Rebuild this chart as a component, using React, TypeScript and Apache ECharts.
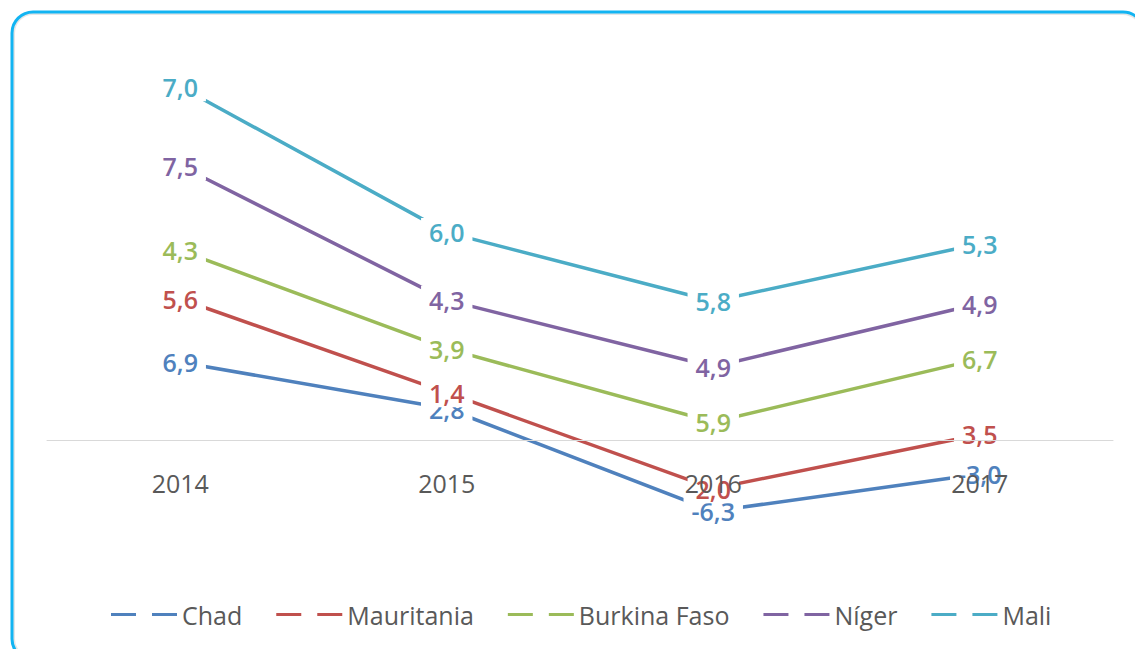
import React, { useEffect, useRef } from "react";
import * as echarts from "echarts";

const years = ["2014", "2015", "2016", "2017"];
const seriesNames = ["Chad", "Mauritania", "Burkina Faso", "Níger", "Mali"];
const chad = [6.9, 2.8, -6.3, -3.0];
const mauritania = [5.6, 1.4, 2.0, 3.5];
const burkina = [4.3, 3.9, 5.9, 6.7];
const niger = [7.5, 4.3, 4.9, 4.9];
const mali = [7.0, 6.0, 5.8, 5.3];
const colors = ["#4f81bd", "#c0504d", "#9bbb59", "#8064a2", "#4bacc6"];

const FONT = "'Open Sans', 'Liberation Sans', sans-serif";

export default function App() {
  const ref = useRef<HTMLDivElement>(null);
  useEffect(() => {
    if (!ref.current) return;
    const chart = echarts.init(ref.current, null, { renderer: "svg" });
    const values = [chad, mauritania, burkina, niger, mali];
    chart.setOption({
      animation: false,
      backgroundColor: "#ffffff",
      graphic: [
        {
          type: "rect",
          shape: { x: 14, y: 14, width: 1128, height: 644, r: 19 },
          style: { fill: "none", stroke: "#e6e6e6", lineWidth: 2 },
          silent: true,
        },
        {
          type: "rect",
          shape: { x: 12, y: 12, width: 1132, height: 648, r: 21 },
          style: { fill: "none", stroke: "#12b4f2", lineWidth: 3 },
          silent: true,
        },
      ],
      grid: { left: 47, right: 22, top: 45, bottom: 96 },
      legend: {
        left: 106,
        top: 597,
        itemWidth: 66,
        itemHeight: 3,
        itemGap: 34,
        textStyle: { color: "#595959", fontSize: 25, fontFamily: FONT },
        data: seriesNames.map((n) => ({
          name: n,
          icon: "path://M0,0h25v3h-25z M41,0h25v3h-25z",
        })),
      },
      xAxis: {
        type: "category",
        data: years,
        boundaryGap: true,
        z: 10,
        axisLine: { onZero: true, lineStyle: { color: "#d9d9d9", width: 1 } },
        axisTick: { show: false },
        axisLabel: {
          color: "#595959",
          fontSize: 25,
          fontFamily: FONT,
          margin: -83,
        },
      },
      yAxis: {
        type: "value",
        show: false,
        min: -10,
        max: 35,
        splitLine: { show: false },
      },
      series: seriesNames.map((name, i) => ({
        name,
        type: "line",
        stack: "total",
        stackStrategy: "all",
        data: values[i],
        color: colors[i],
        symbol: "circle",
        symbolSize: 1,
        showSymbol: true,
        lineStyle: { width: 3.5, color: colors[i] },
        itemStyle: { color: colors[i] },
        label: {
          show: true,
          position: "inside",
          color: colors[i],
          fontSize: 25,
          fontWeight: 600,
          fontFamily: FONT,
          backgroundColor: "#ffffff",
          padding: [2, 8],
          formatter: (p: any) => Number(p.value).toFixed(1).replace(".", ","),
        },
      })),
    });
    return () => chart.dispose();
  }, []);
  return (
    <div
      ref={ref}
      style={{ position: "fixed", left: 0, top: 0, width: 1135, height: 649 }}
    />
  );
}
